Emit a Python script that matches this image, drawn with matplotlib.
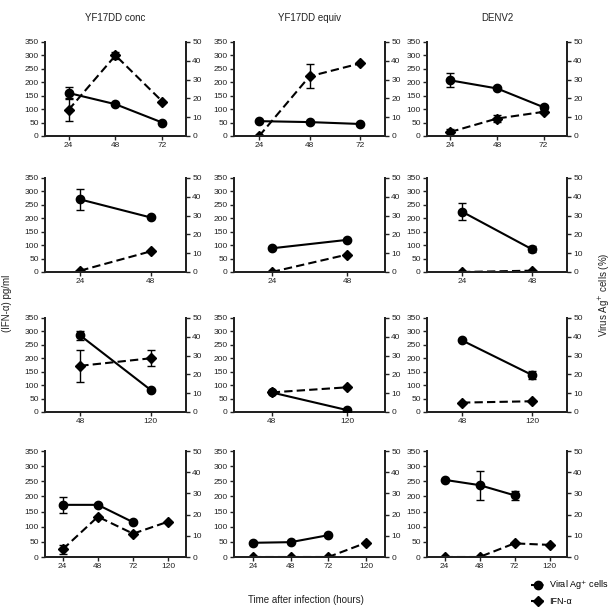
import numpy as np
import matplotlib
matplotlib.use("Agg")
from matplotlib import pyplot as plt
from matplotlib.lines import Line2D

plt.rcParams['font.family'] = ['Liberation Sans', 'DejaVu Sans']

titles = ["YF17DD conc", "YF17DD equiv", "DENV2"]
row_times = [
    ["24", "48", "72"],
    ["24", "48"],
    ["48", "120"],
    ["24", "48", "72", "120"],
]

nan = np.nan
# viral Ag+ cells (%), right axis
viral = [
    [[22.9, 16.9, 7.1], [7.9, 7.4, 6.4], [29.6, 25.3, 15.3]],
    [[38.6, 29.0], [12.6, 17.1], [32.1, 12.1]],
    [[40.7, 11.7], [10.4, 1.0], [38.1, 19.7]],
    [[24.6, 24.6, 16.4, nan], [6.7, 7.0, 10.3, nan], [36.4, 33.9, 29.1, nan]],
]
viral_err = [
    [[3.0, 0, 0], [0, 0, 0], [3.7, 0, 1.1]],
    [[5.6, 0], [0, 0], [4.6, 1.6]],
    [[2.5, 0], [0, 0], [0, 2.2]],
    [[3.9, 0, 0, 0], [0, 0, 0, 0], [0, 6.8, 2.0, 0]],
]
# IFN-alpha (pg/ml), left axis
ifn = [
    [[97, 300, 128], [0, 222, 270], [15, 65, 90]],
    [[5, 77], [0, 65], [0, 5]],
    [[172, 200], [73, 92], [35, 40]],
    [[25, 133, 77, 117], [0, 0, 0, 47], [0, 0, 45, 40]],
]
ifn_err = [
    [[43, 12, 0], [0, 45, 0], [12, 14, 0]],
    [[0, 0], [0, 0], [0, 0]],
    [[59, 30], [0, 0], [0, 0]],
    [[14, 0, 0, 0], [0, 0, 0, 0], [0, 0, 0, 0]],
]

W, H = 612, 607
fig = plt.figure(figsize=(W / 100, H / 100), dpi=100)

col_px = [(45, 186), (234, 385), (427, 567)]
row_px = [(42, 136), (178, 272), (318, 412), (451, 557)]
dark = "#222222"

for r in range(4):
    for c in range(3):
        x0, x1 = col_px[c]
        y0, y1 = row_px[r]
        ax = fig.add_axes([x0 / W, 1 - y1 / H, (x1 - x0) / W, (y1 - y0) / H])
        ax2 = ax.twinx()
        n = len(row_times[r])
        xs = np.arange(n)
        ax.errorbar(xs, ifn[r][c], yerr=ifn_err[r][c], color="black", ls=(0, (4, 2)),
                    lw=1.5, marker="D", ms=5.5, capsize=3, elinewidth=1, zorder=3)
        ax2.errorbar(xs, viral[r][c], yerr=viral_err[r][c], color="black", ls="-",
                     lw=1.5, marker="o", ms=6, capsize=3, elinewidth=1, zorder=3)
        ax.set_ylim(0, 350)
        ax.set_yticks(range(0, 351, 50))
        ax2.set_ylim(0, 50)
        ax2.set_yticks(range(0, 51, 10))
        ax.set_xlim(-0.5, n - 0.5)
        ax.set_xticks(xs)
        ax.set_xticklabels(row_times[r])
        for a in (ax, ax2):
            a.spines["top"].set_visible(False)
            for s in ("left", "right", "bottom"):
                a.spines[s].set_linewidth(1.4)
                a.spines[s].set_color(dark)
            a.tick_params(labelsize=6, width=1, length=3, colors=dark, pad=1.5)
        if r == 0:
            ax.set_title(titles[c], fontsize=7, pad=15, color=dark)

fig.text(0.011, 0.5, "(IFN-α) pg/ml", rotation=90, fontsize=7, va="center", ha="center", color=dark)
fig.text(0.988, 0.515, "Virus Ag$^{+}$ cells (%)", rotation=90, fontsize=7, va="center", ha="center", color=dark)
fig.text(0.5, 0.012, "Time after infection (hours)", fontsize=7, ha="center", va="center", color=dark)

handles = [
    Line2D([], [], color="black", ls=(0, (2, 2)), lw=1.5, marker="o", ms=6),
    Line2D([], [], color="black", ls=(0, (2, 2)), lw=1.5, marker="D", ms=5.5),
]
fig.legend(handles, ["Viral Ag$^{+}$ cells", "IFN-α"], loc="lower right",
           bbox_to_anchor=(1.0, -0.005), frameon=False, fontsize=6.5,
           handlelength=1.6, handletextpad=0.4, labelspacing=0.6,
           borderaxespad=0.2, borderpad=0.2)

fig.savefig("out.png", dpi=100)
